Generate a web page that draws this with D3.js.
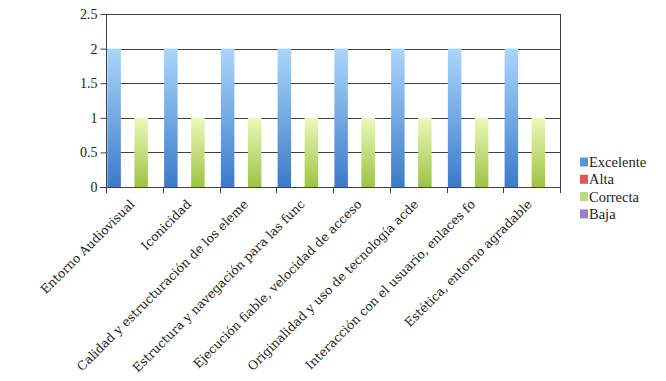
<!DOCTYPE html>
<html><head><meta charset="utf-8">
<script src="https://cdn.jsdelivr.net/npm/d3@7"></script>
<style>body{margin:0;background:#fff}svg{display:block}</style>
</head><body>
<svg id="c" width="666" height="381"></svg>
<script>
const categories = ["Entorno Audiovisual","Iconicidad","Calidad y estructuración de los eleme","Estructura y navegación para las func","Ejecución fiable, velocidad de acceso","Originalidad y uso de tecnología acde","Interacción con el usuario, enlaces fo","Estética, entorno agradable"];
const seriesNames = ["Excelente","Alta","Correcta","Baja"];
const excelente = [2,2,2,2,2,2,2,2];
const alta = [0,0,0,0,0,0,0,0];
const correcta = [1,1,1,1,1,1,1,1];
const baja = [0,0,0,0,0,0,0,0];
const yTicks = [0,0.5,1,1.5,2,2.5];
const yTickLabels = ["0","0.5","1","1.5","2","2.5"];

const seriesVals = [excelente, alta, correcta, baja];
const svg = d3.select("#c");
const m = {l:106, t:14, r:560, b:187};
const font = "'Liberation Serif', 'DejaVu Serif', serif";
const labelFont = "'DejaVu Serif', serif";

const x = d3.scaleBand().domain(categories).range([m.l, m.r]).paddingInner(0).paddingOuter(0);
const xs = d3.scaleBand().domain(seriesNames).range([0, x.bandwidth()]).paddingInner(0).paddingOuter(0.1);
const y = d3.scaleLinear().domain([0,2.5]).range([m.b, m.t]);

const defs = svg.append("defs");
function grad(id, top, bottom){
  const g = defs.append("linearGradient").attr("id",id).attr("x1",0).attr("y1",0).attr("x2",0).attr("y2",1);
  g.append("stop").attr("offset","0%").attr("stop-color",top);
  g.append("stop").attr("offset","100%").attr("stop-color",bottom);
}
grad("gE","#aad6fb","#3c7bca");
grad("gA","#f3a0a0","#c93c3c");
grad("gC","#ecf9ba","#9cc344");
grad("gB","#c2a8e2","#8063b5");
const fills = ["url(#gE)","url(#gA)","url(#gC)","url(#gB)"];
const legendFills = ["#5a94d8","#e05858","#bcdc78","#9a7ccc"];

// gridlines
svg.append("g").selectAll("line").data(yTicks.slice(1)).join("line")
  .attr("x1",m.l).attr("x2",m.r).attr("y1",d=>Math.round(y(d))+0.5).attr("y2",d=>Math.round(y(d))+0.5)
  .attr("stroke","#404040").attr("stroke-width",1);
// right border
svg.append("line").attr("x1",m.r+0.5).attr("x2",m.r+0.5).attr("y1",m.t).attr("y2",m.b)
  .attr("stroke","#404040");

// bars
seriesNames.forEach((s,si)=>{
  svg.append("g").selectAll("rect").data(seriesVals[si]).join("rect")
    .attr("x",(d,i)=>x(categories[i])+xs(s))
    .attr("width",xs.bandwidth())
    .attr("y",d=>y(d))
    .attr("height",d=>y(0)-y(d))
    .attr("fill",fills[si]);
});

// y axis
const yAxis = d3.axisLeft(y).tickValues(yTicks).tickFormat((d,i)=>yTickLabels[i]).tickSize(6).tickPadding(3);
const ga = svg.append("g").attr("transform",`translate(${m.l+0.5},0)`).call(yAxis);
ga.select(".domain").attr("stroke","#404040").attr("d",`M0,${m.t}V${m.b}`);
ga.selectAll(".tick line").attr("stroke","#404040");
ga.selectAll(".tick text").attr("font-family",font).attr("font-size",14).attr("fill","#222");

// x axis
const bounds = categories.map(c=>x(c)).concat([m.r]);
const gx = svg.append("g");
gx.append("line").attr("x1",m.l-6).attr("x2",m.r).attr("y1",m.b+0.5).attr("y2",m.b+0.5).attr("stroke","#404040");
gx.selectAll("line.t").data(bounds).join("line").attr("class","t")
  .attr("x1",d=>Math.round(d)+0.5).attr("x2",d=>Math.round(d)+0.5).attr("y1",m.b).attr("y2",m.b+6)
  .attr("stroke","#404040");
gx.selectAll("text").data(categories).join("text")
  .attr("transform",d=>`translate(${x(d)+x.bandwidth()/2+1},${m.b+18}) rotate(-45)`)
  .attr("text-anchor","end")
  .attr("font-family",labelFont).attr("font-size",12.3).attr("fill","#222")
  .text(d=>d);

// legend
const lg = svg.append("g");
seriesNames.forEach((s,i)=>{
  const yy = 162 + i*17.3;
  lg.append("rect").attr("x",580).attr("y",yy-4.5).attr("width",8).attr("height",9).attr("fill",legendFills[i]);
  lg.append("text").attr("x",589).attr("y",yy+5).attr("font-family",font).attr("font-size",14.5).attr("fill","#222").text(s);
});
</script>
</body></html>
